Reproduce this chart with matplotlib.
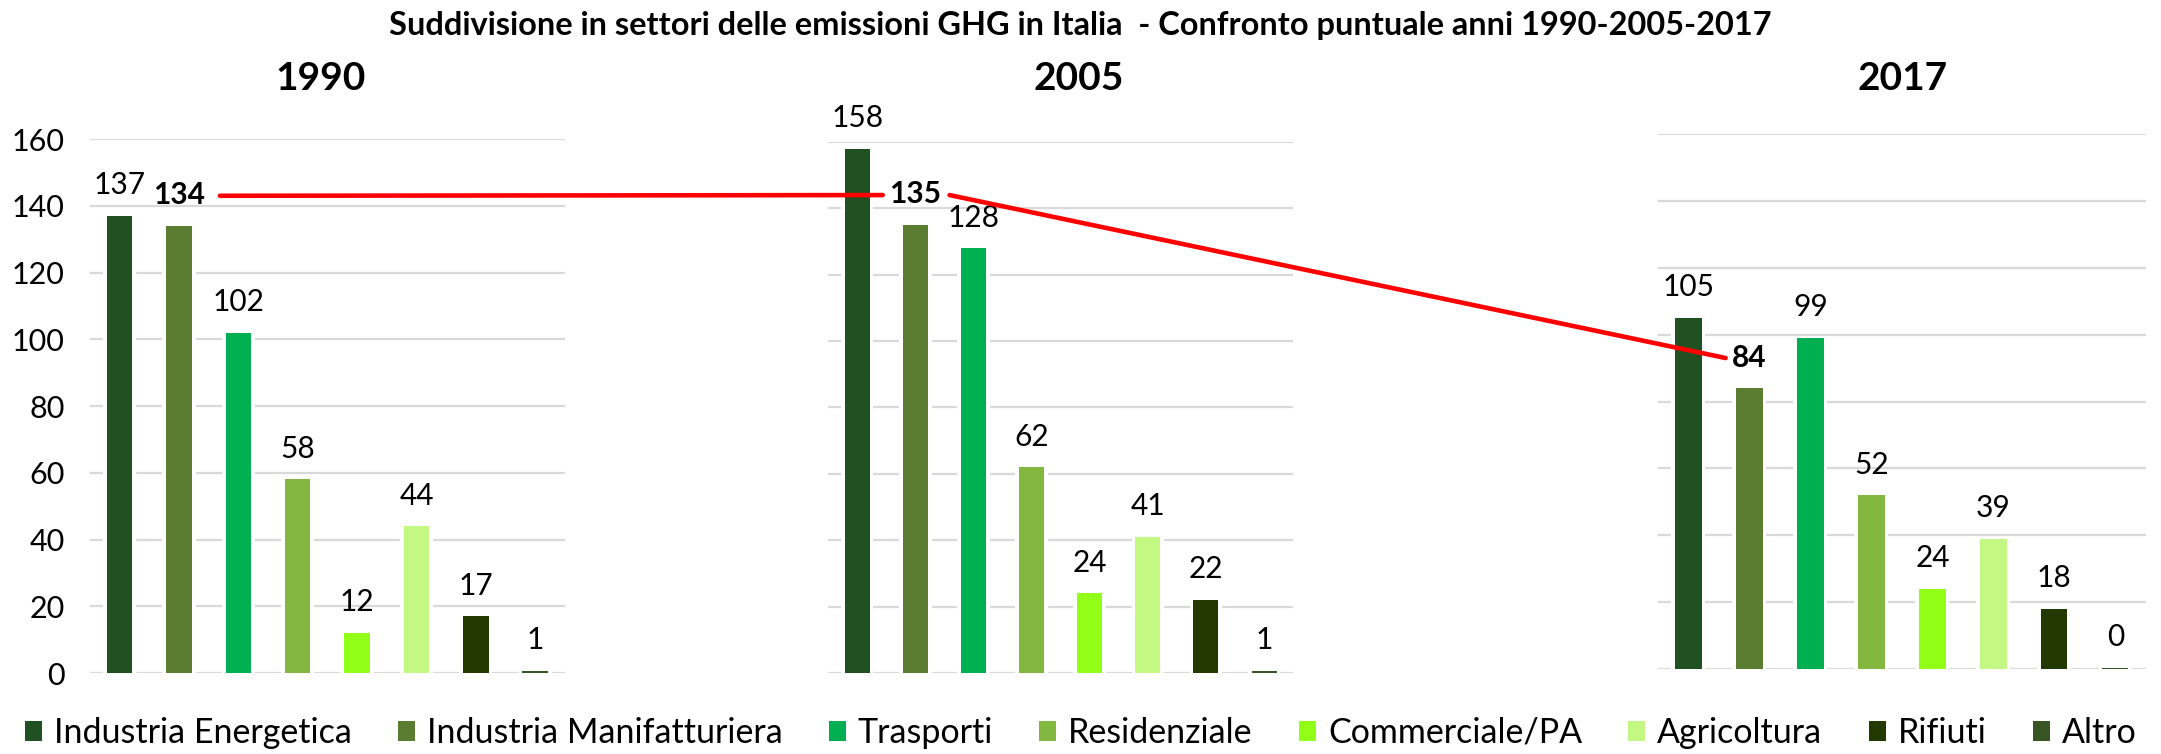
import numpy as np
import matplotlib
matplotlib.use("Agg")
import matplotlib.pyplot as plt
from matplotlib.patches import ConnectionPatch, Patch

plt.rcParams['font.family'] = ['Lato', 'DejaVu Sans']

# dati (Mt CO2eq)
sectors = ['Industria Energetica', 'Industria Manifatturiera', 'Trasporti', 'Residenziale',
           'Commerciale/PA', 'Agricoltura', 'Rifiuti', 'Altro']
years = ['1990', '2005', '2017']
v1990 = [137, 134, 102, 58, 12, 44, 17, 0.6]
v2005 = [158, 135, 128, 62, 24, 41, 22, 0.6]
v2017 = [105, 84, 99, 52, 24, 39, 18, 0.3]
colors = ['#215122', '#5a7d32', '#00b050', '#82b840', '#92ff17', '#c3f982', '#223a00', '#375623']

title = 'Suddivisione in settori delle emissioni GHG in Italia  - Confronto puntuale anni 1990-2005-2017'

fig = plt.figure(figsize=(21.61, 7.54), dpi=100)

# posizione dei tre pannelli (frazioni della figura)
positions = [[0.0416, 0.1074, 0.2198, 0.7082],
             [0.3832, 0.1074, 0.2152, 0.7043],
             [0.7672, 0.1127, 0.2258, 0.7096]]
year_x = [321 / 2161, 1079 / 2161, 1903 / 2161]

axes = []
x = np.arange(len(sectors))
for k, vals in enumerate([v1990, v2005, v2017]):
    ax = fig.add_axes(positions[k])
    ax.bar(x, vals, width=0.56, color='white', zorder=2)
    ax.bar(x, vals, width=0.43, color=colors, zorder=3)
    for i, v in enumerate(vals):
        ax.annotate(f'{v:.0f}', (i, v), xytext=(0, 22), textcoords='offset points',
                    ha='center', va='center', fontsize=21.5,
                    fontweight='bold' if i == 1 else 'normal', zorder=4)
    ax.set_xlim(-0.5, len(sectors) - 0.5)
    ax.set_ylim(0, 160)
    ax.set_yticks(range(0, 161, 20))
    ax.yaxis.grid(True, color='#d9d9d9', lw=1.6)
    ax.set_axisbelow(True)
    ax.set_xticks([])
    for s in ax.spines.values():
        s.set_visible(False)
    ax.tick_params(length=0, labelsize=22, pad=18)
    if k > 0:
        ax.tick_params(labelleft=False)
    fig.text(year_x[k], 1 - 79 / 754, years[k], ha='center', va='center',
             fontsize=28, fontweight='bold')
    axes.append(ax)

# linee rosse di confronto per l'Industria Manifatturiera
con1 = ConnectionPatch(xyA=(1.69, v1990[1] + 9), coordsA=axes[0].transData,
                       xyB=(0.44, v2005[1] + 9), coordsB=axes[1].transData,
                       color='red', lw=3.3, zorder=5)
con2 = ConnectionPatch(xyA=(1.59, v2005[1] + 9), coordsA=axes[1].transData,
                       xyB=(0.61, v2017[1] + 9), coordsB=axes[2].transData,
                       color='red', lw=3.3, zorder=5)
fig.add_artist(con1)
fig.add_artist(con2)

fig.text(0.5, 1 - 25 / 754, title, ha='center', va='center', fontsize=23.4, fontweight='bold')

handles = [Patch(facecolor=c) for c in colors]
fig.legend(handles, sectors, loc='center', bbox_to_anchor=(0.5, 1 - 733 / 754), ncol=8,
           frameon=False, fontsize=24.5, handlelength=0.5, handleheight=0.5,
           handletextpad=0.35, columnspacing=1.36, borderpad=0.2)

fig.savefig('out.png', dpi=100)
